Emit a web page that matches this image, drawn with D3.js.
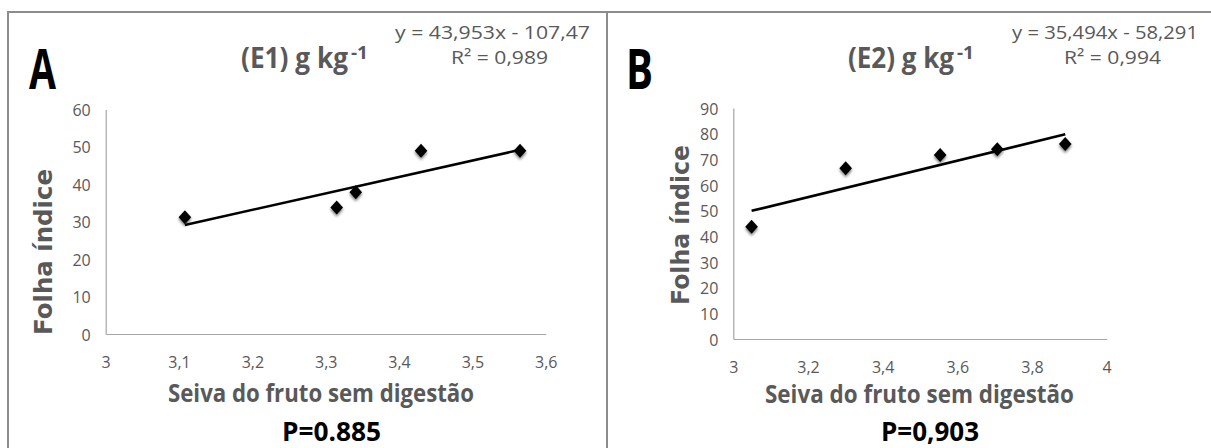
<!DOCTYPE html>
<html>
<head>
<meta charset="utf-8">
<script src="https://cdn.jsdelivr.net/npm/d3@7"></script>
<style>
  html, body { margin: 0; padding: 0; background: #fff; }
  svg { display: block; }
</style>
</head>
<body>
<svg id="chart" width="1211" height="448"></svg>
<script>
// Panel A: fruit sap (E1) vs leaf index
const seivaA = [3.108, 3.315, 3.341, 3.430, 3.565];
const folhaA = [31.2, 33.8, 37.9, 49.0, 49.0];
const slopeA = 43.953, interceptA = -107.47;
const xTicksA = [3, 3.1, 3.2, 3.3, 3.4, 3.5, 3.6];
const yTicksA = [0, 10, 20, 30, 40, 50, 60];

// Panel B: fruit sap (E2) vs leaf index
const seivaB = [3.049, 3.301, 3.554, 3.707, 3.889];
const folhaB = [43.7, 66.5, 71.7, 73.9, 76.0];
const slopeB = 35.494, interceptB = -58.291;
const xTicksB = [3, 3.2, 3.4, 3.6, 3.8, 4];
const yTicksB = [0, 10, 20, 30, 40, 50, 60, 70, 80, 90];

const svg = d3.select("#chart");
svg.append("rect").attr("width", 1211).attr("height", 448).attr("fill", "#fff");

// soft shadow under the markers
const defs = svg.append("defs");
const f = defs.append("filter").attr("id", "shadow")
  .attr("x", "-60%").attr("y", "-60%").attr("width", "220%").attr("height", "220%");
f.append("feGaussianBlur").attr("in", "SourceAlpha").attr("stdDeviation", 1.6).attr("result", "b");
f.append("feOffset").attr("in", "b").attr("dx", 0).attr("dy", 2).attr("result", "o");
f.append("feComponentTransfer").attr("in", "o").attr("result", "s")
  .append("feFuncA").attr("type", "linear").attr("slope", 0.55);
const m = f.append("feMerge");
m.append("feMergeNode").attr("in", "s");
m.append("feMergeNode").attr("in", "SourceGraphic");

const comma = v => String(v).replace(".", ",");

function panel(o) {
  const g = svg.append("g");
  // frame
  g.append("rect").attr("x", o.frame[0]).attr("y", 12).attr("width", o.frame[1] - o.frame[0])
    .attr("height", 460).attr("fill", "none").attr("stroke", "#8c8c8c").attr("stroke-width", 2);

  const x = d3.scaleLinear().domain(o.xDomain).range(o.xRange);
  const y = d3.scaleLinear().domain(o.yDomain).range(o.yRange);

  // axes
  const xAxis = d3.axisBottom(x).tickValues(o.xTicks).tickSize(0).tickPadding(0).tickFormat(comma);
  const yAxis = d3.axisLeft(y).tickValues(o.yTicks).tickSize(0).tickPadding(0);
  const xa = g.append("g").attr("transform", `translate(0,${o.yRange[0]})`).call(xAxis);
  const ya = g.append("g").attr("transform", `translate(${o.xRange[0]},0)`).call(yAxis);
  [xa, ya].forEach(a => {
    a.select(".domain").attr("stroke", "#a6a6a6").attr("stroke-width", 1.2);
    a.selectAll("text").attr("font-family", "'Open Sans', sans-serif")
      .attr("font-size", 16).attr("fill", "#595959");
  });
  xa.selectAll("text").attr("dy", null).attr("y", 33.5);
  ya.selectAll("text").attr("dy", null).attr("x", -15).attr("y", 6);

  // trend line from the fitted equation
  const x0 = d3.min(o.xs), x1 = d3.max(o.xs);
  g.append("line")
    .attr("x1", x(x0)).attr("y1", y(o.slope * x0 + o.intercept))
    .attr("x2", x(x1)).attr("y2", y(o.slope * x1 + o.intercept))
    .attr("stroke", "#000").attr("stroke-width", 2.6);

  // markers
  const pts = o.xs.map((v, i) => [v, o.ys[i]]);
  g.append("g").attr("filter", "url(#shadow)").selectAll("path").data(pts).join("path")
    .attr("d", d => { const cx = x(d[0]), cy = y(d[1]);
      return `M${cx},${cy - 7}L${cx + 6.3},${cy}L${cx},${cy + 7}L${cx - 6.3},${cy}Z`; })
    .attr("fill", "#000");

  const fit = (sel, w) => sel.attr("textLength", w).attr("lengthAdjust", "spacingAndGlyphs");

  // panel letter
  fit(g.append("text").attr("x", o.letterX).attr("y", 89).text(o.letter)
    .attr("font-family", "'Open Sans', sans-serif").attr("font-weight", 700)
    .attr("font-size", 56).attr("fill", "#000"), 27);

  // title, unit exponent drawn as its own raised text
  const title = { family: "'Open Sans', sans-serif", fill: "#595959" };
  fit(g.append("text").attr("x", o.titleX).attr("y", 68).text(o.title)
    .attr("font-family", title.family).attr("font-weight", 700)
    .attr("font-size", 28).attr("fill", title.fill), o.titleW);
  fit(g.append("text").attr("x", o.titleX + o.titleW + 3).attr("y", 59).text("-1")
    .attr("font-family", title.family).attr("font-weight", 700)
    .attr("font-size", 18).attr("fill", title.fill), 17);

  // equation and R²
  const eq = `y = ${comma(o.slope)}x - ${comma(Math.abs(o.intercept))}`;
  fit(g.append("text").attr("x", o.eqX[0]).attr("y", 39).text(eq)
    .attr("font-family", "'Open Sans', sans-serif").attr("font-size", 19).attr("fill", "#595959"), o.eqW[0]);
  fit(g.append("text").attr("x", o.eqX[1]).attr("y", 64).text(`R² = ${o.r2}`)
    .attr("font-family", "'Open Sans', sans-serif").attr("font-size", 19).attr("fill", "#595959"), o.eqW[1]);

  // axis titles
  fit(g.append("text").attr("transform", `translate(${o.yTitleX},${o.yTitle[0]}) rotate(-90)`)
    .text("Folha índice").attr("font-family", "'DejaVu Sans', sans-serif").attr("font-weight", 700)
    .attr("font-size", 24).attr("fill", "#595959"), o.yTitle[1]);

  fit(g.append("text").attr("x", o.xTitle[0]).attr("y", o.xTitle[2]).text("Seiva do fruto sem digestão")
    .attr("font-family", "'Open Sans', sans-serif").attr("font-weight", 700)
    .attr("font-size", 25).attr("fill", "#595959"), o.xTitle[1]);

  fit(g.append("text").attr("x", o.pX[0]).attr("y", 441).text(o.p)
    .attr("font-family", "'Open Sans', sans-serif").attr("font-weight", 700)
    .attr("font-size", 26).attr("fill", "#000"), o.pX[1]);
}

panel({
  frame: [8, 607], xDomain: [3, 3.6], xRange: [105.7, 545.7], yDomain: [0, 60], yRange: [334, 109.5],
  xTicks: xTicksA, yTicks: yTicksA, xs: seivaA, ys: folhaA, slope: slopeA, intercept: interceptA,
  letter: "A", letterX: 29, title: "(E1) g kg", titleX: 241, titleW: 107,
  eqX: [395, 451], eqW: [195, 97], r2: "0,989",
  yTitleX: 52, yTitle: [335, 166], xTitle: [168, 306, 402], p: "P=0.885", pX: [282, 99]
});

panel({
  frame: [607, 1220], xDomain: [3, 4], xRange: [733.3, 1106.7], yDomain: [0, 90], yRange: [339, 108],
  xTicks: xTicksB, yTicks: yTicksB, xs: seivaB, ys: folhaB, slope: slopeB, intercept: interceptB,
  letter: "B", letterX: 626, title: "(E2) g kg", titleX: 848, titleW: 106,
  eqX: [1012, 1064], eqW: [186, 97], r2: "0,994",
  yTitleX: 689, yTitle: [305, 160], xTitle: [765, 309, 403], p: "P=0,903", pX: [881, 98]
});
</script>
</body>
</html>
